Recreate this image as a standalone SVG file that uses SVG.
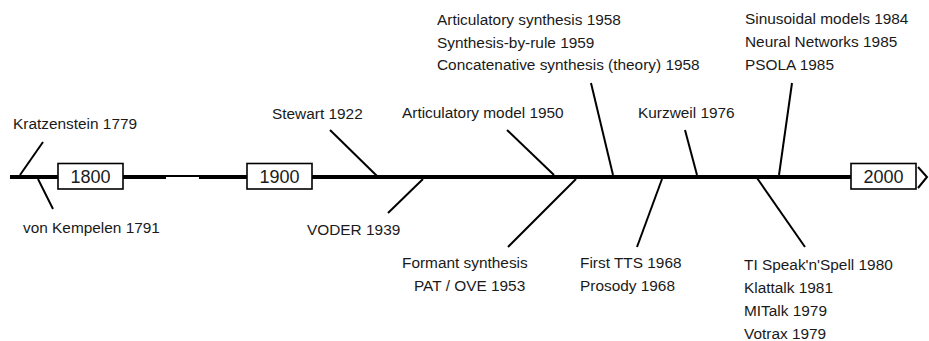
<svg xmlns="http://www.w3.org/2000/svg" width="929" height="341" viewBox="0 0 929 341">
<style>
  .lbl { font-family: "Liberation Sans", Arial, sans-serif; font-size: 15.4px; fill: #1a1a1a; }
  .yr { font-family: "Liberation Sans", Arial, sans-serif; font-size: 18px; fill: #1a1a1a; text-anchor: middle; }
  .box { fill: #ffffff; stroke: #000000; stroke-width: 1.6; }
  .axis { stroke: #000000; stroke-width: 4; fill: none; }
  .thin { stroke: #000000; stroke-width: 2; fill: none; }
  .conn { stroke: #000000; stroke-width: 2; fill: none; }
</style>
<rect width="929" height="341" fill="#ffffff"/>
<g id="axis">
  <line class="axis" x1="10" y1="177" x2="58" y2="177"/>
  <line class="axis" x1="123" y1="177" x2="166" y2="177"/>
  <line class="thin" x1="166" y1="176" x2="199" y2="176"/>
  <line class="axis" x1="199" y1="177" x2="247" y2="177"/>
  <line class="axis" x1="312" y1="177" x2="851" y2="177"/>
  <polyline class="thin" points="918,167 927,177 918,188"/>
</g>
<g id="connectors">
  <line class="conn" x1="20" y1="175" x2="43" y2="142"/>
  <line class="conn" x1="38" y1="179" x2="53" y2="209"/>
  <line class="conn" x1="330" y1="130" x2="377" y2="176"/>
  <line class="conn" x1="423" y1="179" x2="388" y2="213"/>
  <line class="conn" x1="507" y1="130" x2="554" y2="175"/>
  <line class="conn" x1="591" y1="83" x2="613" y2="175"/>
  <line class="conn" x1="685" y1="130" x2="697" y2="175"/>
  <line class="conn" x1="576" y1="179" x2="508" y2="247"/>
  <line class="conn" x1="662" y1="179" x2="637" y2="247"/>
  <line class="conn" x1="792" y1="83" x2="779" y2="175"/>
  <line class="conn" x1="757" y1="178" x2="805" y2="247"/>
</g>
<g id="year1800">
  <rect class="box" x="58" y="163.5" width="65" height="25.5"/>
  <text class="yr" x="90.5" y="183">1800</text>
</g>
<g id="year1900">
  <rect class="box" x="247" y="163.5" width="65" height="25.5"/>
  <text class="yr" x="279.5" y="183">1900</text>
</g>
<g id="year2000">
  <rect class="box" x="851" y="163.5" width="65" height="25.5"/>
  <text class="yr" x="883.5" y="183">2000</text>
</g>
<g id="kratzenstein"><text class="lbl" x="13" y="129">Kratzenstein 1779</text></g>
<g id="kempelen"><text class="lbl" x="23" y="233">von Kempelen 1791</text></g>
<g id="stewart"><text class="lbl" x="272" y="119">Stewart 1922</text></g>
<g id="voder"><text class="lbl" x="307" y="235">VODER 1939</text></g>
<g id="artmodel"><text class="lbl" x="402" y="118">Articulatory model 1950</text></g>
<g id="artsynth">
  <text class="lbl" x="437" y="25">Articulatory synthesis 1958</text>
  <text class="lbl" x="437" y="48">Synthesis-by-rule 1959</text>
  <text class="lbl" x="437" y="70">Concatenative synthesis (theory) 1958</text>
</g>
<g id="kurzweil"><text class="lbl" x="638" y="118">Kurzweil 1976</text></g>
<g id="formant">
  <text class="lbl" x="402" y="268">Formant synthesis</text>
  <text class="lbl" x="414" y="291">PAT / OVE 1953</text>
</g>
<g id="firsttts">
  <text class="lbl" x="580" y="268">First TTS 1968</text>
  <text class="lbl" x="580" y="291">Prosody 1968</text>
</g>
<g id="sinusoidal">
  <text class="lbl" x="745" y="24">Sinusoidal models 1984</text>
  <text class="lbl" x="745" y="47">Neural Networks 1985</text>
  <text class="lbl" x="745" y="70">PSOLA 1985</text>
</g>
<g id="speakspell">
  <text class="lbl" x="744" y="270">TI Speak'n'Spell 1980</text>
  <text class="lbl" x="744" y="293">Klattalk 1981</text>
  <text class="lbl" x="744" y="316">MITalk 1979</text>
  <text class="lbl" x="744" y="339">Votrax 1979</text>
</g>
</svg>
